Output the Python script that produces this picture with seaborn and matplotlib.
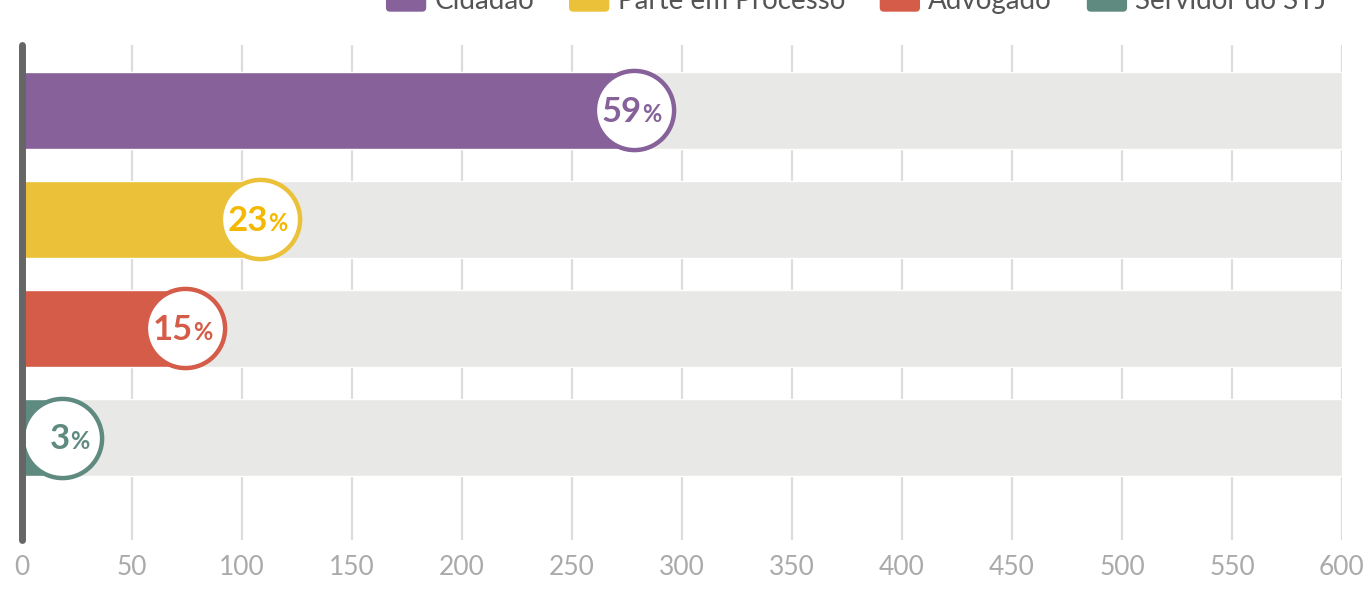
import matplotlib
matplotlib.use("Agg")
import matplotlib.pyplot as plt
import seaborn as sns
import pandas as pd
from matplotlib.patches import Patch, FancyBboxPatch
from matplotlib.legend_handler import HandlerPatch

categories = ["Cidadão", "Parte em Processo", "Advogado", "Servidor do STJ"]
values = [278, 108, 74, 18]
pct_labels = ["59", "23", "15", "3"]
bar_colors = ["#86619a", "#ecc13a", "#d45c48", "#5f8a80"]
text_colors = ["#86619a", "#f5b800", "#d45c48", "#5f8a80"]
x_ticks = [0, 50, 100, 150, 200, 250, 300, 350, 400, 450, 500, 550, 600]
x_max = 600

sns.set_theme(style="white")
plt.rcParams["font.family"] = ["Lato", "DejaVu Sans"]

df = pd.DataFrame({"cat": categories, "val": values, "full": [x_max] * len(categories)})

fig = plt.figure(figsize=(13.68, 6.01), dpi=100)
ax = fig.add_axes([22 / 1368, 1 - 540 / 601, 1320 / 1368, 495 / 601])

# grid
for t in x_ticks:
    ax.axvline(t, color="#dcdcdc", lw=1.6, zorder=0)

sns.barplot(data=df, x="full", y="cat", orient="h", color="#e8e8e6", width=0.7,
            ax=ax, zorder=1, saturation=1)
sns.barplot(data=df, x="val", y="cat", orient="h", hue="cat", palette=bar_colors,
            width=0.7, ax=ax, zorder=2, saturation=1, legend=False)

ax.set_xlim(0, x_max)
ax.set_ylim(3.94, -0.6)

# circles with labels
for i, (v, lab, bc, tc) in enumerate(zip(values, pct_labels, bar_colors, text_colors)):
    ax.scatter([v], [i], s=3250, facecolor="white", edgecolor=bc, linewidth=3.2,
               zorder=4, clip_on=False)
    ax.annotate(lab, (v, i), xytext=(6, -1), textcoords="offset points",
                ha="right", va="center", fontsize=25, fontweight="bold",
                color=tc, zorder=5)
    ax.annotate("%", (v, i), xytext=(6, -3), textcoords="offset points",
                ha="left", va="center", fontsize=17, fontweight="bold",
                color=tc, zorder=5)

# left axis line
ax.plot([0, 0], [-0.6, 3.94], color="#666666", lw=5, solid_capstyle="round",
        zorder=6, clip_on=False)

for s in ax.spines.values():
    s.set_visible(False)
ax.set_xticks(x_ticks)
ax.set_xticklabels([str(t) for t in x_ticks])
ax.tick_params(axis="x", length=0, pad=11, labelsize=19, labelcolor="#aaaaaa")
ax.set_yticks([])
ax.set_xlabel("")
ax.set_ylabel("")


class RoundHandler(HandlerPatch):
    def create_artists(self, legend, orig_handle, xdescent, ydescent, width, height,
                       fontsize, trans):
        p = FancyBboxPatch((-xdescent + 3, -ydescent + 3), width - 6, height - 6,
                           boxstyle="round,pad=3", facecolor=orig_handle.get_facecolor(),
                           edgecolor="none", transform=trans)
        return [p]


handles = [Patch(facecolor=c, edgecolor="none") for c in bar_colors]
fig.legend(handles, categories, loc="center", bbox_to_anchor=(0.626, 1.0 - 1 / 601),
           ncol=4, frameon=False, fontsize=20, handlelength=1.45, handleheight=0.95,
           handletextpad=0.3, columnspacing=1.25, labelcolor="#555555",
           handler_map={Patch: RoundHandler()})

fig.savefig("out.png", dpi=100)
